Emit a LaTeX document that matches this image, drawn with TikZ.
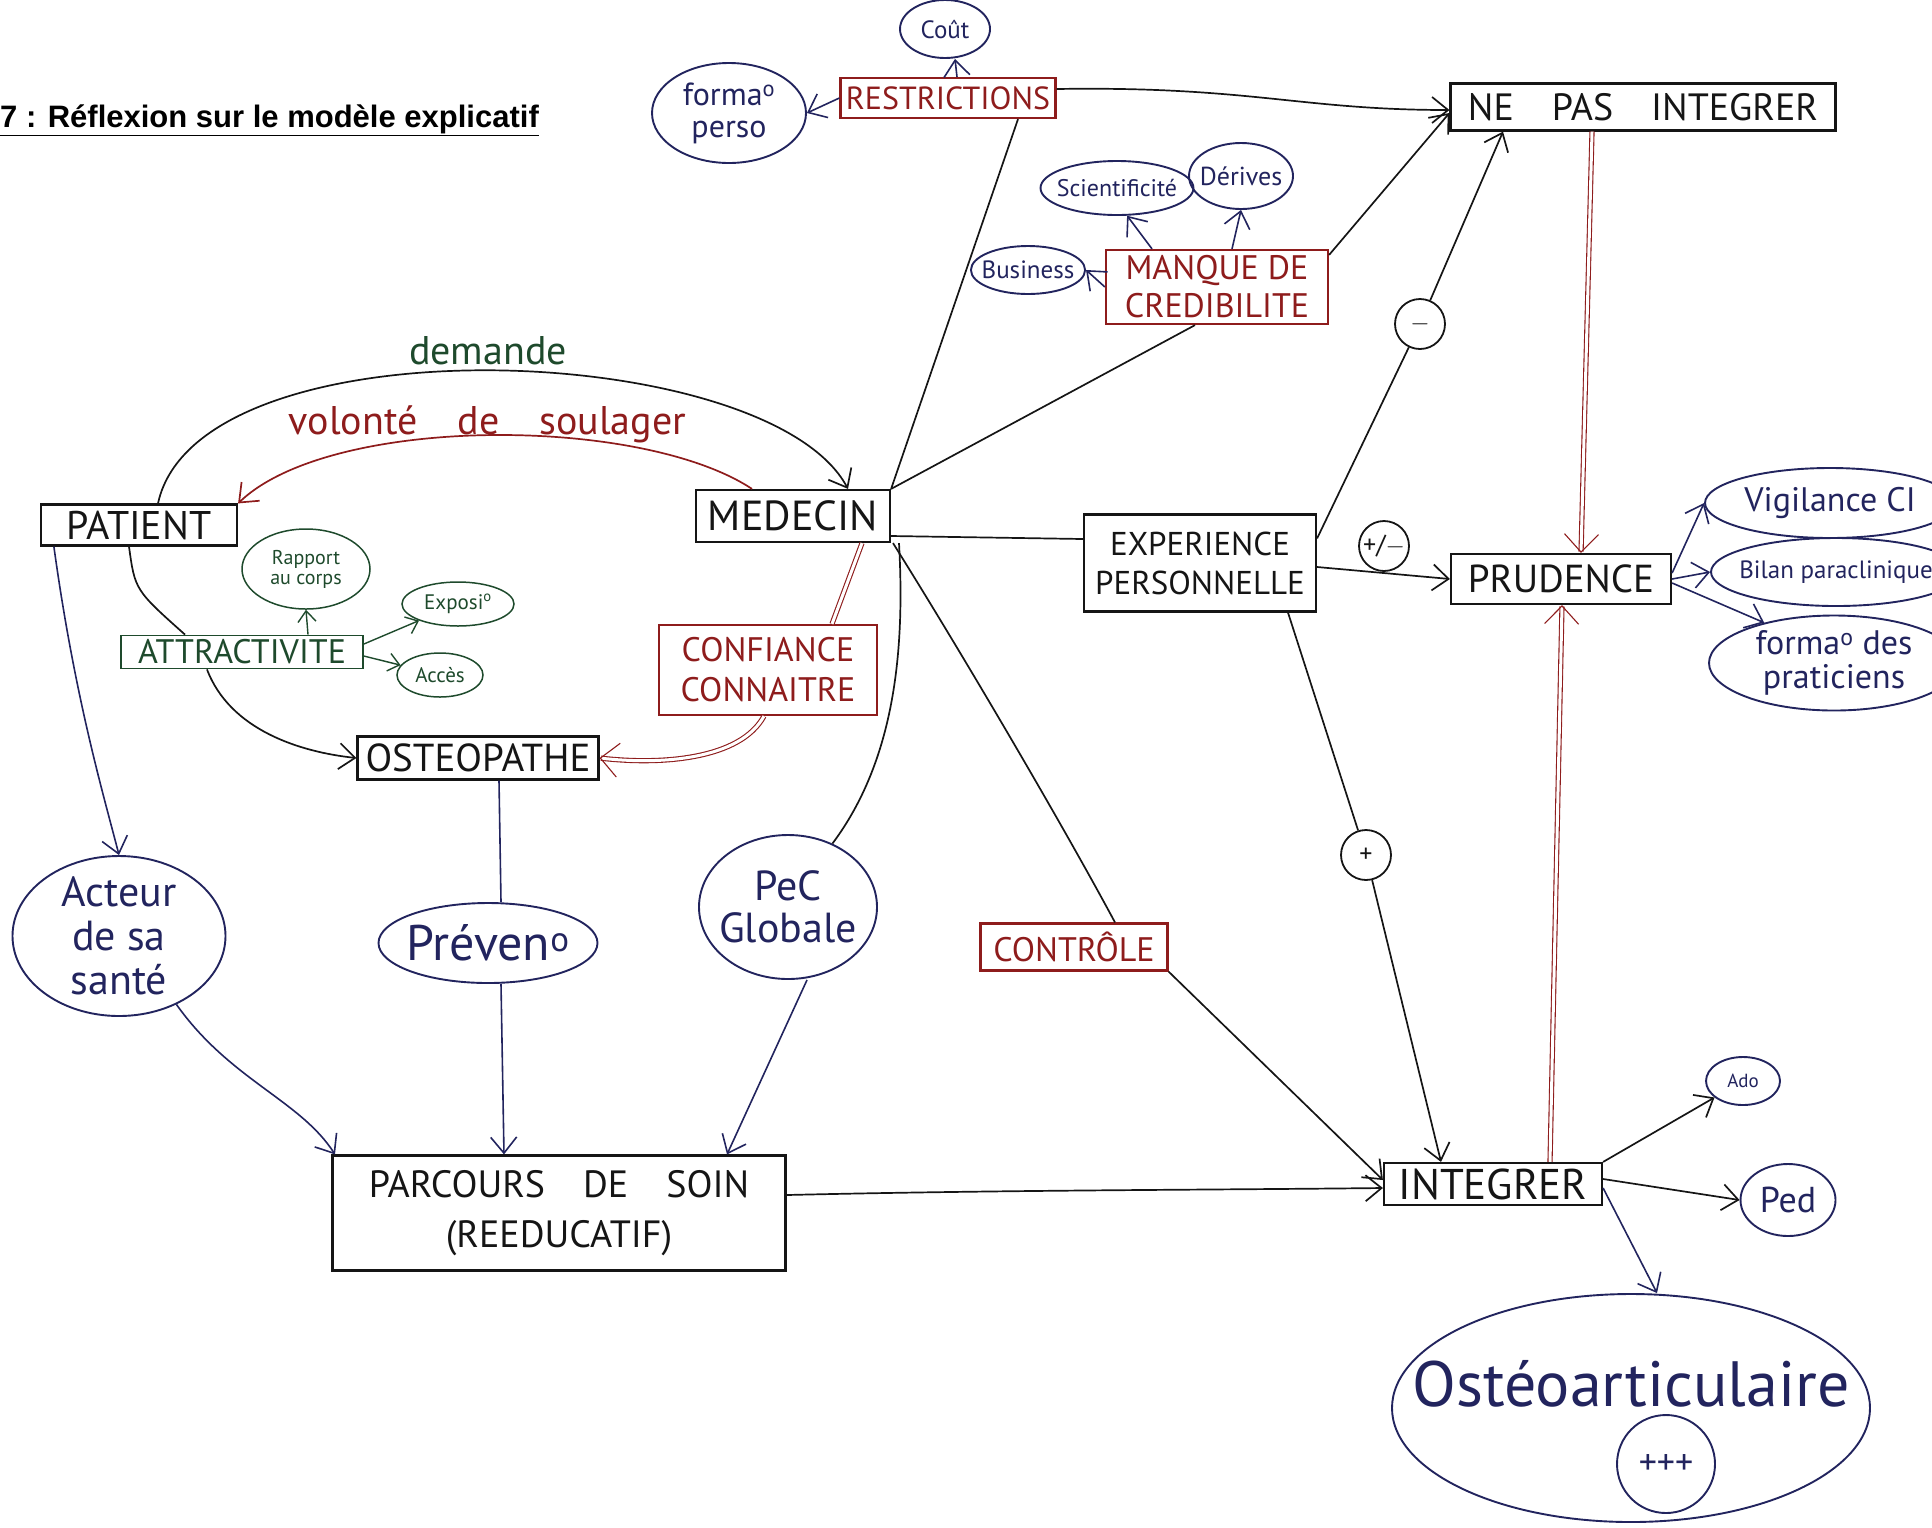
\documentclass[tikz,border=0pt]{standalone}
\usepackage{fontspec}
\setmainfont{PT Sans}
\newfontfamily\titlefont{Liberation Sans}
\usetikzlibrary{arrows.meta,shapes.geometric}
\definecolor{ink}{HTML}{151515}
\definecolor{penblue}{HTML}{22245E}
\definecolor{penred}{HTML}{8E1C1C}
\definecolor{pengreen}{HTML}{1E4A2C}
\newcommand{\fs}[1]{\fontsize{#1}{#1}\selectfont}

\begin{document}
\begin{tikzpicture}[
  x=1pt, y=-1pt,
  box/.style={draw=ink, text=ink, line width=2.2pt, inner sep=0pt, align=center, font=\fs{42}},
  redbox/.style={box, draw=penred, text=penred, font=\fs{34}},
  grnbox/.style={box, draw=pengreen, text=pengreen, line width=1.8pt, font=\fs{34}},
  bubble/.style={ellipse, draw=penblue, text=penblue, line width=1.9pt, inner sep=-6pt, align=center},
  grnbubble/.style={bubble, draw=pengreen, text=pengreen, line width=1.5pt},
  sign/.style={circle, draw=ink, text=ink, line width=1.8pt, minimum size=50pt, inner sep=0pt, font=\fs{26}},
  tip/.style={-{Straight Barb[length=16pt,width=26pt]}},
  inkln/.style={draw=ink, line width=1.7pt},
  inkarr/.style={inkln, tip},
  bluarr/.style={draw=penblue, line width=1.6pt, tip},
  bluln/.style={draw=penblue, line width=1.6pt},
  grnarr/.style={draw=pengreen, line width=1.4pt, -{Straight Barb[length=11pt,width=18pt]}},
  redarr/.style={draw=penred, line width=1.7pt, tip},
  dbl/.style={draw=penred, double=white, double distance=3pt, line width=1.1pt},
  dbltip/.style={-{Straight Barb[length=18pt,width=34pt]}},
]
\useasboundingbox (0,0) rectangle (1932,1527);
\clip (0,0) rectangle (1932,1527);

% title
\node[anchor=west, inner sep=0pt, font=\titlefont\bfseries\fs{31}, text=black] (title) at (0,120)
  {\underline{7 : Réflexion sur le modèle explicatif}};

% top: restrictions and credibility
\node[bubble, minimum width=90pt, minimum height=58pt, font=\fs{25}] (cout) at (945,29) {Coût};
\node[bubble, minimum width=154pt, minimum height=100pt, font=\fs{32}] (formaperso) at (729,113) {forma\textsuperscript{o}\\perso};
\node[redbox, minimum width=215pt, minimum height=40pt, font=\fs{32}] (restr) at (948,98) {RESTRICTIONS};
\node[box, minimum width=385pt, minimum height=47pt, font=\fs{38}] (nepas) at (1643,107) {NE\quad PAS\quad INTEGRER};
\node[bubble, minimum width=140pt, minimum height=54pt, font=\fs{24}] (scient) at (1117,188) {Scientificité};
\node[bubble, minimum width=104pt, minimum height=66pt, font=\fs{26}] (derives) at (1241,176) {Dérives};
\node[bubble, minimum width=104pt, minimum height=48pt, font=\fs{25}] (business) at (1028,270) {Business};
\node[redbox, minimum width=222pt, minimum height=74pt] (manque) at (1217,287) {MANQUE DE\\[4pt]CREDIBILITE};
\node[sign] (moins) at (1420,324) {$-$};

% left loop
\node[box, minimum width=196pt, minimum height=41pt, font=\fs{40}] (patient) at (139,525) {PATIENT};
\node[box, minimum width=194pt, minimum height=52pt] (medecin) at (793,516) {MEDECIN};
\node[grnbubble, minimum width=128pt, minimum height=80pt, font=\fs{20}] (rapport) at (306,569) {Rapport\\au corps};
\node[grnbubble, minimum width=112pt, minimum height=44pt, font=\fs{21}] (expo) at (458,604) {Exposi\textsuperscript{o}};
\node[grnbubble, minimum width=86pt, minimum height=44pt, font=\fs{21}] (acces) at (440,675) {Accès};
\node[grnbox, minimum width=242pt, minimum height=33pt] (attract) at (242,652) {ATTRACTIVITE};
\node[redbox, minimum width=218pt, minimum height=90pt] (confiance) at (768,670) {CONFIANCE\\[6pt]CONNAITRE};
\node[box, minimum width=241pt, minimum height=43pt, font=\fs{39}] (osteo) at (478,758) {OSTEOPATHE};

% right: experience and prudence
\node[box, minimum width=232pt, minimum height=97pt, font=\fs{33}] (exper) at (1200,563) {EXPERIENCE\\[6pt]PERSONNELLE};
\node[sign] (plusmoins) at (1384,546) {+/$-$};
\node[box, minimum width=220pt, minimum height=50pt, font=\fs{39}] (prudence) at (1561,579) {PRUDENCE};
\node[bubble, minimum width=250pt, minimum height=70pt, inner xsep=-22pt, font=\fs{34}] (vigil) at (1830,503) {Vigilance CI};
\node[bubble, minimum width=250pt, minimum height=68pt, inner xsep=-30pt, font=\fs{25}] (bilan) at (1836,572) {Bilan paraclinique};
\node[bubble, minimum width=250pt, minimum height=95pt, inner xsep=-22pt, font=\fs{34}] (formapra) at (1834,663) {forma\textsuperscript{o} des\\praticiens};
\node[sign] (plus) at (1366,855) {+};

% bottom
\node[bubble, minimum width=213pt, minimum height=160pt, font=\fontsize{42}{44}\selectfont] (acteur) at (119,936) {Acteur\\de sa\\santé};
\node[bubble, minimum width=219pt, minimum height=80pt, inner xsep=-24pt, font=\fs{50}] (prevention) at (488,943) {Préven\textsuperscript{o}};
\node[bubble, minimum width=178pt, minimum height=144pt, font=\fontsize{42}{42}\selectfont] (pec) at (788,907) {PeC\\Globale};
\node[redbox, minimum width=187pt, minimum height=47pt] (controle) at (1074,947) {CONTRÔLE};
\node[box, minimum width=453pt, minimum height=115pt, font=\fs{38}] (parcours) at (559,1213) {PARCOURS\quad DE\quad SOIN\\[12pt](REEDUCATIF)};
\node[box, minimum width=218pt, minimum height=42pt, font=\fs{43}] (integrer) at (1493,1184) {INTEGRER};
\node[bubble, minimum width=74pt, minimum height=48pt, font=\fs{19}] (ado) at (1743,1081) {Ado};
\node[bubble, minimum width=95pt, minimum height=72pt, font=\fs{36}] (ped) at (1788,1200) {Ped};
\node[bubble, minimum width=478pt, minimum height=228pt] (osteoart) at (1631,1408) {};
\node[inner sep=0pt, text=penblue, font=\fs{64}] (osteotxt) at (1631,1384) {Ostéoarticulaire};
\node[bubble, circle, minimum size=98pt, font=\fs{36}] (plusplus) at (1666,1464) {+++};

% connectors, top
\draw[bluarr] (restr.west) -- (formaperso.east);
\draw[bluarr] ([xshift=9pt]restr.north) -- ([xshift=10pt]cout.south);
\draw[inkarr] ([yshift=9pt]restr.east) .. controls (1250,86) and (1300,110) .. ([yshift=-3pt]nepas.west);
\draw[inkln] (medecin.north east) -- ([xshift=70pt]restr.south);
\draw[inkln] (medecin.north east) -- ([xshift=-22pt]manque.south);
\draw[bluarr] (manque.west) -- (business.east);
\draw[bluarr] ([xshift=-65pt]manque.north) -- (scient.-70);
\draw[bluarr] ([xshift=15pt]manque.north) -- (derives.south);
\draw[inkarr] ([yshift=-6pt]manque.north east) -- ([yshift=-6pt]nepas.west);

% demande / volonte
\draw[inkarr] ([xshift=19pt]patient.north) .. controls +(40,-185) and +(-80,-150) .. ([xshift=55pt]medecin.north)
  node[pos=.5, above=1pt, text=pengreen, font=\fs{40}] {demande};
\draw[redarr] ([xshift=-41pt]medecin.north) .. controls (640,415) and (330,415) .. (patient.north east)
  node[pos=.5, above=-12pt, text=penred, font=\fs{40}] {volonté\quad de\quad soulager};

% attractivite
\draw[inkln] ([xshift=-10pt]patient.south) .. controls (135,590) .. ([xshift=-57pt]attract.north);
\draw[inkarr] ([xshift=-35pt]attract.south) .. controls (230,730) and (300,752) .. (osteo.west);
\draw[grnarr] ([xshift=66pt]attract.north) -- (rapport.south);
\draw[grnarr] ([yshift=8pt]attract.east) -- (expo);
\draw[grnarr] ([yshift=-4pt]attract.east) -- (acces);

% confiance
\draw[dbl] ([xshift=69pt]medecin.south) -- ([xshift=64pt]confiance.north);
\draw[dbl, dbltip] ([xshift=-4pt]confiance.south) .. controls (740,760) and (660,765) .. (osteo.east);

% medecin to the right
\draw[inkln] ([yshift=-20pt]medecin.east) -- ([yshift=24pt]exper.west);
\draw[inkln] ([xshift=106pt]medecin.south) .. controls (905,650) and (895,760) .. (pec.55);
\draw[inkln] ([xshift=100pt]medecin.south) .. controls (960,650) and (1060,820) .. ([xshift=41pt]controle.north);

% experience
\draw[inkln] ([yshift=-25pt]exper.north east) -- (moins);
\draw[inkarr] (moins) -- ([xshift=-140pt]nepas.south);
\draw[inkarr] ([yshift=-4pt]exper.east) -- (prudence.west);
\draw[inkln] ([xshift=88pt]exper.south) -- (plus);
\draw[inkarr] (plus) -- ([xshift=-52pt]integrer.north);

% prudence
\draw[dbl, dbltip] ([xshift=-51pt]nepas.south) -- ([xshift=20pt]prudence.north);
\draw[dbl, dbltip] ([xshift=57pt]integrer.north) -- ([xshift=1pt]prudence.south);
\draw[bluarr] ([yshift=6pt]prudence.east) -- (vigil.west);
\draw[bluarr] (prudence.east) -- (bilan.west);
\draw[bluarr] ([yshift=-4pt]prudence.east) -- (formapra.150);

% parcours de soin
\draw[bluarr] ([xshift=14pt]patient.south west) .. controls (75,700) and (105,800) .. (acteur.north);
\draw[bluln] ([xshift=21pt]osteo.south) -- ([xshift=13pt]prevention.north);
\draw[bluarr] (acteur.-50) .. controls (230,1080) and (300,1100) .. ([xshift=-224pt]parcours.north);
\draw[bluarr] ([xshift=13pt]prevention.south) -- ([xshift=-55pt]parcours.north);
\draw[bluarr] ([xshift=19pt]pec.south) -- ([xshift=168pt]parcours.north);

% integrer
\draw[inkarr] (controle.south east) -- ([yshift=4pt]integrer.west);
\draw[inkarr] ([yshift=18pt]parcours.east) .. controls (1000,1190) and (1200,1190) .. ([yshift=-4pt]integrer.west);
\draw[inkarr] (integrer.north east) -- (ado);
\draw[inkarr] ([yshift=5pt]integrer.east) -- (ped.west);
\draw[bluarr] ([yshift=-4pt]integrer.east) -- ([xshift=26pt]osteoart.north);
\end{tikzpicture}
\end{document}
